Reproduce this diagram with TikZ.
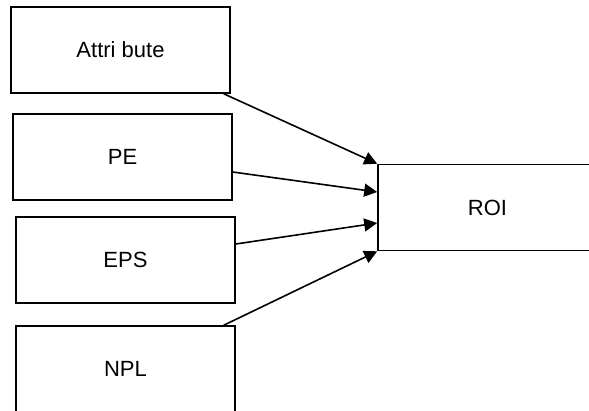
\documentclass[tikz,border=0pt]{standalone}
\usepackage{fontspec}
\setmainfont{Liberation Sans}
\usetikzlibrary{arrows.meta,calc}

\tikzset{
  factor/.style={draw=black, line width=1.6pt, minimum width=219pt,
    minimum height=86pt, inner sep=0pt, font=\fontsize{22}{26}\selectfont},
  link/.style={-{Triangle[length=13pt,width=13pt]}, color=black, line width=1.6pt}
}

\begin{document}
\begin{tikzpicture}[x=1pt,y=-1pt]
      \useasboundingbox (0,0) rectangle (589,410);

      % Boxes
      \node[factor] (attr) at (120.5,50) {Attri bute};
      \node[factor] (pe) at (122.5,157) {PE};
      \node[factor] (eps) at (125.5,260) {EPS};
      \node[factor] (npl) at (125.5,369) {NPL};
      \node[factor] (roi) at (487.5,207.5) {ROI};

      % Arcs
      \draw[link] ($(attr.south east)+(-7,0)$) -- (roi.north west);
      \draw[link] ($(pe.east)+(0,15)$) -- ($(roi.west)+(0,-15.5)$);
      \draw[link] ($(eps.east)+(0,-16)$) -- ($(roi.west)+(0,15.5)$);
      \draw[link] ($(npl.north east)+(-12,0)$) -- (roi.south west);
\end{tikzpicture}
\end{document}
